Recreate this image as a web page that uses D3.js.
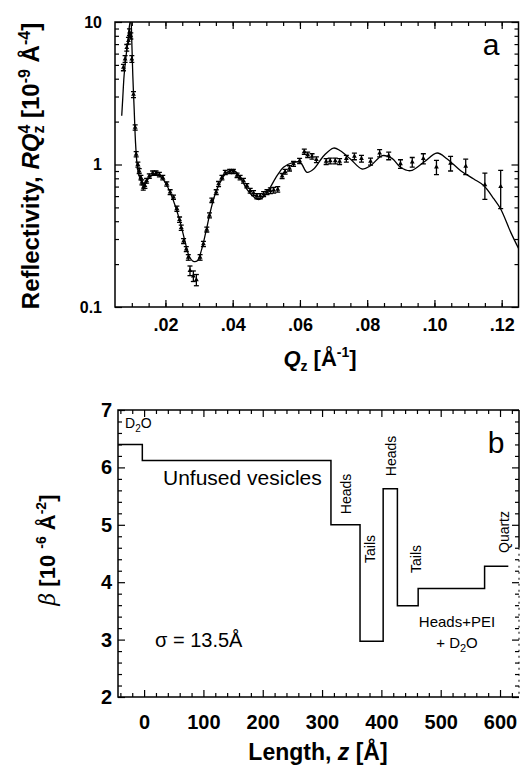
<!DOCTYPE html>
<html>
<head>
<meta charset="utf-8">
<script src="https://cdn.jsdelivr.net/npm/d3@7"></script>
<style>
  body { margin: 0; background: #fff; }
  text { font-family: "Liberation Sans", Arial, sans-serif; fill: #000; }
</style>
</head>
<body>
<div id="chart"></div>
<script>
// ---- panel a: reflectivity data (R*Qz^4, 10^-9 A^-4) ----
const qData = [0.0075, 0.0080, 0.0085, 0.0090, 0.0093, 0.0097, 0.0100, 0.0105, 0.0110, 0.0113,
  0.0118, 0.0122, 0.0127, 0.0130, 0.0134, 0.0139, 0.0144, 0.0152, 0.0162, 0.0172,
  0.0182, 0.0192, 0.0204, 0.0214, 0.0224, 0.0234, 0.0242, 0.0247, 0.0254, 0.0262,
  0.0268, 0.0273, 0.0283, 0.0292, 0.0303, 0.0313, 0.0323, 0.0331, 0.0338, 0.0351,
  0.0358, 0.0368, 0.0378, 0.0391, 0.0402, 0.0413, 0.0422, 0.0432, 0.0442, 0.0452,
  0.0462, 0.0472, 0.0482, 0.0492, 0.0502, 0.0512, 0.0522, 0.0534, 0.0547, 0.0556,
  0.0569, 0.0581, 0.0599, 0.0613, 0.0623, 0.0636, 0.0649, 0.0678, 0.0690, 0.0705,
  0.0718, 0.0738, 0.0762, 0.0783, 0.0810, 0.0837, 0.0864, 0.0899, 0.0934, 0.0967,
  0.1006, 0.1048, 0.1093, 0.1150, 0.1197];
const rData = [4.8, 5.5, 6.6, 7.4, 8.5, 8.0, 5.5, 3.1, 1.82, 1.18,
  1.0, 0.90, 0.81, 0.75, 0.69, 0.71, 0.77, 0.83, 0.87, 0.87,
  0.85, 0.81, 0.73, 0.64, 0.59, 0.49, 0.41, 0.36, 0.29, 0.255,
  0.223, 0.18, 0.165, 0.155, 0.223, 0.277, 0.35, 0.44, 0.56, 0.64,
  0.73, 0.81, 0.88, 0.895, 0.895, 0.84, 0.81, 0.77, 0.71, 0.655,
  0.63, 0.60, 0.60, 0.62, 0.64, 0.655, 0.66, 0.67, 0.83, 0.89,
  0.94, 1.01, 1.06, 1.23, 1.17, 1.14, 1.08, 1.05, 1.06, 1.06,
  1.05, 1.10, 1.14, 1.10, 1.05, 1.20, 1.15, 1.01, 1.04, 1.10,
  0.96, 1.02, 0.97, 0.72, 0.70];
const rErr = [0.25, 0.3, 0.35, 0.4, 0.45, 0.4, 0.3, 0.15, 0.08, 0.05,
  0.04, 0.035, 0.03, 0.03, 0.03, 0.03, 0.03, 0.03, 0.03, 0.03,
  0.03, 0.03, 0.025, 0.025, 0.02, 0.02, 0.018, 0.015, 0.012, 0.01,
  0.01, 0.014, 0.014, 0.014, 0.01, 0.012, 0.014, 0.018, 0.02, 0.025,
  0.03, 0.03, 0.03, 0.03, 0.03, 0.03, 0.03, 0.03, 0.025, 0.025,
  0.025, 0.025, 0.025, 0.025, 0.025, 0.03, 0.03, 0.03, 0.035, 0.035,
  0.04, 0.04, 0.045, 0.05, 0.05, 0.05, 0.05, 0.05, 0.05, 0.05,
  0.05, 0.06, 0.06, 0.06, 0.06, 0.07, 0.07, 0.07, 0.08, 0.09,
  0.11, 0.12, 0.12, 0.15, 0.21];

// model fit curve
const fitQ = [0.0070, 0.0073, 0.0077, 0.0083, 0.0088, 0.0093, 0.0097, 0.0100, 0.0103, 0.0107,
  0.0111, 0.0115, 0.0119, 0.0127, 0.0134, 0.0144, 0.0159, 0.0174, 0.0189, 0.0202,
  0.0214, 0.0229, 0.0244, 0.0259, 0.0270, 0.0283, 0.0295, 0.0308, 0.0321, 0.0333,
  0.0348, 0.0363, 0.0378, 0.0393, 0.0405, 0.0422, 0.0442, 0.0460, 0.0477, 0.0490,
  0.0503, 0.0512, 0.0532, 0.0551, 0.0581, 0.0601, 0.0621, 0.0641, 0.0671, 0.0700,
  0.0720, 0.0750, 0.0785, 0.0810, 0.0845, 0.0874, 0.0899, 0.0929, 0.0968, 0.1008,
  0.1038, 0.1078, 0.1117, 0.1147, 0.1177, 0.1197, 0.1227, 0.1251];
const fitR = [2.2, 2.9, 4.2, 5.8, 7.2, 9.4, 10.5, 7.2, 4.2, 2.45,
  1.43, 1.04, 0.88, 0.77, 0.73, 0.77, 0.835, 0.85, 0.81, 0.73,
  0.638, 0.514, 0.393, 0.284, 0.229, 0.209, 0.211, 0.255, 0.343, 0.462,
  0.621, 0.75, 0.858, 0.905, 0.905, 0.815, 0.673, 0.60, 0.566, 0.59,
  0.64, 0.692, 0.835, 0.956, 1.036, 1.036, 0.882, 0.93, 1.153, 1.305,
  1.25, 1.093, 0.93, 0.981, 1.153, 1.105, 0.956, 0.905, 1.036, 1.204,
  1.093, 0.905, 0.791, 0.71, 0.573, 0.487, 0.334, 0.255];

const qTicks = [0.02, 0.04, 0.06, 0.08, 0.10, 0.12];
const qTickLabels = [".02", ".04", ".06", ".08", ".10", ".12"];
const rTicks = [0.1, 1, 10];
const rTickLabels = ["0.1", "1", "10"];

// ---- panel b: SLD profile ----
const zStart = [-44, -3, 315, 364, 403, 427, 462, 574];
const zEnd = 614;
const betaLevels = [6.4, 6.12, 5.0, 2.97, 5.63, 3.59, 3.89, 4.28];
const zTicks = [0, 100, 200, 300, 400, 500, 600];
const betaTicks = [2, 3, 4, 5, 6, 7];

const WIDTH = 520, HEIGHT = 773;

const svg = d3.select("#chart").append("svg")
    .attr("width", WIDTH)
    .attr("height", HEIGHT);

// helper: inward ticks on all four sides
function frameTicks(g, x, y, xMajor, xMinor, yMajor, yMinor, xFmt, yFmt, xPad, yPad) {
  const [x0, x1] = x.range();
  const [y0, y1] = y.range();   // y0 bottom, y1 top

  g.append("g").attr("transform", "translate(0," + y0 + ")")
    .call(d3.axisBottom(x).tickValues(xMinor).tickSize(-4).tickFormat(""));
  g.append("g").attr("class", "lab").attr("transform", "translate(0," + y0 + ")")
    .call(d3.axisBottom(x).tickValues(xMajor).tickSize(-7).tickPadding(xPad).tickFormat(xFmt));
  g.append("g").attr("transform", "translate(0," + y1 + ")")
    .call(d3.axisTop(x).tickValues(xMinor).tickSize(-4).tickFormat(""));
  g.append("g").attr("transform", "translate(0," + y1 + ")")
    .call(d3.axisTop(x).tickValues(xMajor).tickSize(-7).tickFormat(""));

  g.append("g").attr("transform", "translate(" + x0 + ",0)")
    .call(d3.axisLeft(y).tickValues(yMinor).tickSize(-4).tickFormat(""));
  g.append("g").attr("class", "lab").attr("transform", "translate(" + x0 + ",0)")
    .call(d3.axisLeft(y).tickValues(yMajor).tickSize(-7).tickPadding(yPad).tickFormat(yFmt));
  g.append("g").attr("transform", "translate(" + x1 + ",0)")
    .call(d3.axisRight(y).tickValues(yMinor).tickSize(-4).tickFormat(""));
  g.append("g").attr("transform", "translate(" + x1 + ",0)")
    .call(d3.axisRight(y).tickValues(yMajor).tickSize(-7).tickFormat(""));

  g.selectAll(".domain").remove();
  g.selectAll(".tick line").attr("stroke", "#000").attr("stroke-width", 1.2);
  g.selectAll(".lab text")
    .style("font-weight", "bold")
    .style("font-family", "'Liberation Sans', Arial, sans-serif")
    .attr("fill", "#000");
}

// ================= panel a =================
const xA = d3.scaleLinear().domain([0.005, 0.125]).range([115, 518.5]);
const yA = d3.scaleLog().domain([0.1, 10]).range([307, 22]);

const gA = svg.append("g");

let qMinor = d3.range(1, 25).map(i => i * 0.005).filter(v => v > 0.005 && v < 0.125);
let rMinor = [];
[0.1, 1].forEach(dec => { for (let k = 2; k <= 9; k++) rMinor.push(dec * k); });

frameTicks(gA, xA, yA, qTicks, qMinor, rTicks, rMinor,
  (d, i) => qTickLabels[i], (d, i) => rTickLabels[i], 11, 13);
gA.selectAll(".lab text").style("font-size", "18px");
gA.selectAll(".lab").filter((d, i) => i === 1).selectAll("text").style("font-size", "16px");

gA.append("rect")
    .attr("x", 115).attr("y", 22)
    .attr("width", 518.5 - 115).attr("height", 307 - 22)
    .attr("fill", "none").attr("stroke", "#000").attr("stroke-width", 1.5);

svg.append("clipPath").attr("id", "clipA")
  .append("rect").attr("x", 115).attr("y", 22).attr("width", 403.5).attr("height", 285);

const fitPts = fitQ.map((q, i) => [q, fitR[i]]);
gA.append("path")
    .datum(fitPts)
    .attr("clip-path", "url(#clipA)")
    .attr("fill", "none")
    .attr("stroke", "#000")
    .attr("stroke-width", 1.3)
    .attr("d", d3.line()
      .x(d => xA(d[0]))
      .y(d => yA(d[1]))
      .curve(d3.curveCatmullRom.alpha(0.5)));

const pts = qData.map((q, i) => ({q: q, r: rData[i], e: rErr[i]}));

const eb = gA.append("g").attr("clip-path", "url(#clipA)");
eb.selectAll("line.bar")
  .data(pts)
  .enter()
  .append("line")
    .attr("class", "bar")
    .attr("x1", d => xA(d.q)).attr("x2", d => xA(d.q))
    .attr("y1", d => yA(d.r - d.e)).attr("y2", d => yA(d.r + d.e))
    .attr("stroke", "#000").attr("stroke-width", 1.3);
eb.selectAll("line.capTop")
  .data(pts)
  .enter()
  .append("line")
    .attr("class", "capTop")
    .attr("x1", d => xA(d.q) - 2.5).attr("x2", d => xA(d.q) + 2.5)
    .attr("y1", d => yA(d.r + d.e)).attr("y2", d => yA(d.r + d.e))
    .attr("stroke", "#000").attr("stroke-width", 1.3);
eb.selectAll("line.capBot")
  .data(pts)
  .enter()
  .append("line")
    .attr("class", "capBot")
    .attr("x1", d => xA(d.q) - 2.5).attr("x2", d => xA(d.q) + 2.5)
    .attr("y1", d => yA(d.r - d.e)).attr("y2", d => yA(d.r - d.e))
    .attr("stroke", "#000").attr("stroke-width", 1.3);
eb.selectAll("path.pt")
  .data(pts)
  .enter()
  .append("path")
    .attr("class", "pt")
    .attr("transform", d => "translate(" + xA(d.q) + "," + yA(d.r) + ")")
    .attr("d", d3.symbol(d3.symbolTriangle).size(10))
    .attr("fill", "#000");

// panel a labels
const yLabA = svg.append("text")
    .attr("transform", "translate(39,166) rotate(-90)")
    .attr("text-anchor", "middle")
    .style("font-weight", "bold")
    .style("font-size", "24px");
yLabA.append("tspan").text("Reflectivity, ");
yLabA.append("tspan").style("font-style", "italic").text("RQ");
yLabA.append("tspan").style("font-size", "16px").attr("dy", 5).text("z");
yLabA.append("tspan").style("font-size", "16px").attr("dx", -8).attr("dy", -14).text("4");
yLabA.append("tspan").attr("dy", 9).text(" [10");
yLabA.append("tspan").style("font-size", "16px").attr("dy", -9).text("-9");
yLabA.append("tspan").attr("dy", 9).text(" Å");
yLabA.append("tspan").style("font-size", "16px").attr("dy", -9).text("-4");
yLabA.append("tspan").attr("dy", 9).text("]");

const xLabA = svg.append("text")
    .attr("x", 320).attr("y", 366)
    .attr("text-anchor", "middle")
    .style("font-weight", "bold")
    .style("font-size", "22px");
xLabA.append("tspan").style("font-style", "italic").text("Q");
xLabA.append("tspan").style("font-size", "14px").attr("dy", 5).text("z");
xLabA.append("tspan").attr("dy", -5).text(" [Å");
xLabA.append("tspan").style("font-size", "14px").attr("dy", -9).text("-1");
xLabA.append("tspan").attr("dy", 9).text("]");

svg.append("text").attr("x", 491).attr("y", 55)
    .attr("text-anchor", "middle").style("font-size", "30px").text("a");

// ================= panel b =================
const xB = d3.scaleLinear().domain([-44, 632]).range([118, 519]);
const yB = d3.scaleLinear().domain([2, 7]).range([697, 410]);

const gB = svg.append("g");
const zMinor = d3.range(-40, 640, 20).filter(v => v % 100 !== 0);
const betaMinor = d3.range(2.2, 7, 0.2).filter(v => Math.abs(v - Math.round(v)) > 0.01);

frameTicks(gB, xB, yB, zTicks, zMinor, betaTicks, betaMinor,
  d => d, d => d, 18, 6);
gB.selectAll(".lab text").style("font-size", "20px");

// frame: solid on three sides, broken on the lower right as in the scan
const frameB = gB.append("g").attr("fill", "none").attr("stroke", "#000").attr("stroke-width", 1.5);
frameB.append("path")
    .attr("d", "M" + xB(632) + "," + yB(7) + "H" + xB(-44) + "V" + yB(2) + "H" + xB(632));
frameB.append("line")
    .attr("x1", xB(632)).attr("x2", xB(632))
    .attr("y1", yB(7)).attr("y2", yB(4.6));
frameB.append("line")
    .attr("x1", xB(632)).attr("x2", xB(632))
    .attr("y1", yB(4.6)).attr("y2", yB(2))
    .attr("stroke-width", 1).attr("stroke-dasharray", "2,4");

const profile = zStart.map((z, i) => [z, betaLevels[i]]);
profile.push([zEnd, betaLevels[betaLevels.length - 1]]);
gB.append("path")
    .datum(profile)
    .attr("fill", "none")
    .attr("stroke", "#000")
    .attr("stroke-width", 1.5)
    .attr("d", d3.line()
      .x(d => xB(d[0]))
      .y(d => yB(d[1]))
      .curve(d3.curveStepAfter));

// annotations
const d2o = svg.append("text").attr("x", 125).attr("y", 428).style("font-size", "14px");
d2o.append("tspan").text("D");
d2o.append("tspan").style("font-size", "10px").attr("dy", 4).text("2");
d2o.append("tspan").attr("dy", -4).text("O");

svg.append("text").attr("x", 163).attr("y", 485).style("font-size", "21px").text("Unfused vesicles");
svg.append("text").attr("x", 155).attr("y", 647).style("font-size", "20px").text("σ = 13.5Å");

function vlabel(txt, x, y) {
  svg.append("text")
      .attr("transform", "translate(" + x + "," + y + ") rotate(-90)")
      .attr("text-anchor", "middle")
      .style("font-size", "14px")
      .text(txt);
}
vlabel("Heads", 351, 494);
vlabel("Heads", 396, 456);
vlabel("Tails", 375, 549);
vlabel("Tails", 421, 559);
vlabel("Quartz", 509, 532);

svg.append("text").attr("x", 457).attr("y", 627)
    .attr("text-anchor", "middle").style("font-size", "15px").text("Heads+PEI");
const pd = svg.append("text").attr("x", 457).attr("y", 648)
    .attr("text-anchor", "middle").style("font-size", "15px");
pd.append("tspan").text("+ D");
pd.append("tspan").style("font-size", "11px").attr("dy", 4).text("2");
pd.append("tspan").attr("dy", -4).text("O");

svg.append("text").attr("x", 496).attr("y", 453)
    .attr("text-anchor", "middle").style("font-size", "30px").text("b");

const yLabB = svg.append("text")
    .attr("transform", "translate(55,550) rotate(-90)")
    .attr("text-anchor", "middle")
    .style("font-weight", "bold")
    .style("font-size", "22px");
yLabB.append("tspan").style("font-style", "italic").style("font-weight", "normal")
    .style("font-family", "'DejaVu Serif', 'Liberation Serif', serif").text("β");
yLabB.append("tspan").text(" [10 ");
yLabB.append("tspan").style("font-size", "14px").attr("dy", -9).text("-6");
yLabB.append("tspan").attr("dy", 9).text(" Å");
yLabB.append("tspan").style("font-size", "14px").attr("dy", -9).text("-2");
yLabB.append("tspan").attr("dy", 9).text("]");

const xLabB = svg.append("text")
    .attr("x", 318).attr("y", 760)
    .attr("text-anchor", "middle")
    .style("font-weight", "bold")
    .style("font-size", "23px");
xLabB.append("tspan").text("Length, ");
xLabB.append("tspan").style("font-style", "italic").text("z");
xLabB.append("tspan").text(" [Å]");
</script>
</body>
</html>
